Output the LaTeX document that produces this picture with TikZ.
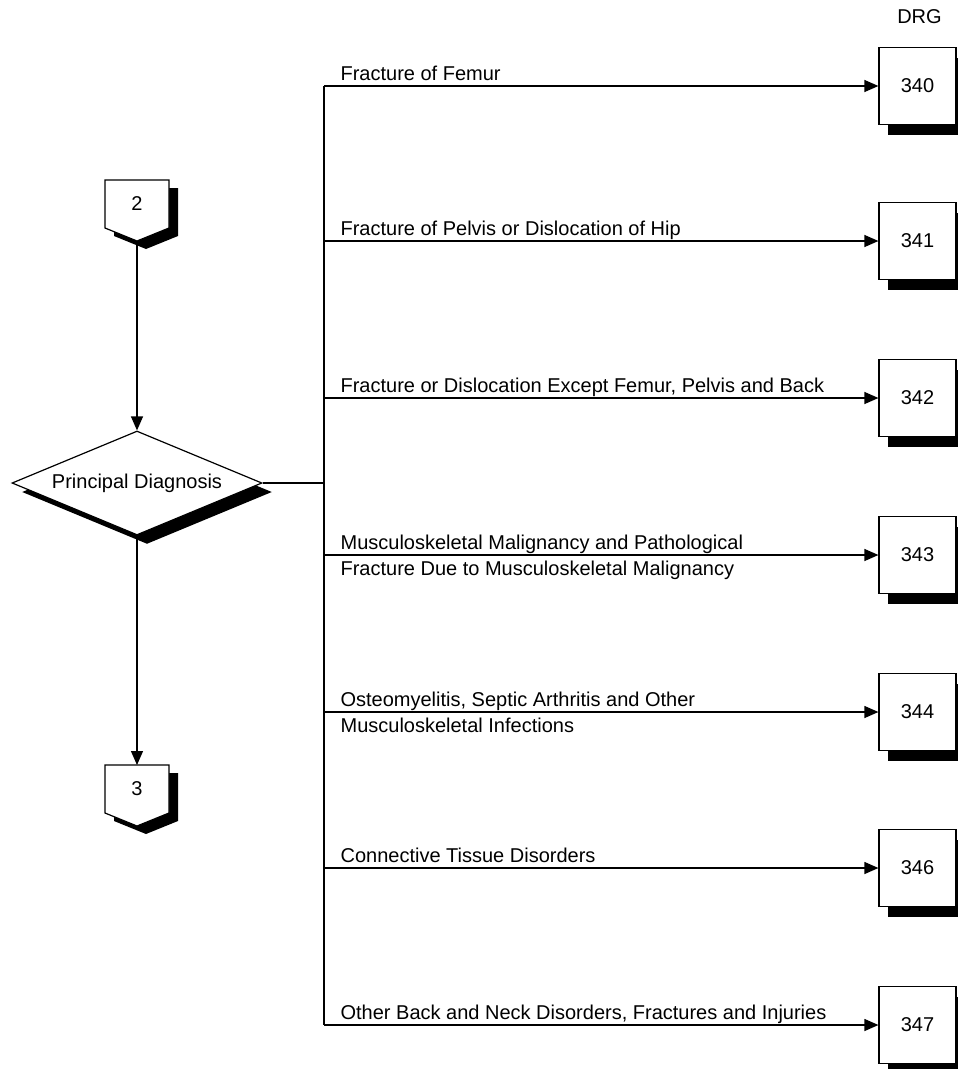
\documentclass[tikz,border=0pt]{standalone}
\usepackage{fontspec}
\setmainfont{Liberation Sans}
\usetikzlibrary{shapes.geometric,shadows,arrows.meta}
\begin{document}
\begin{tikzpicture}[x=1pt,y=-1pt,
  line width=1.2pt,
  every node/.style={font=\fontsize{20}{24}\selectfont, inner sep=0pt},
  arr/.style={-{Triangle[length=14pt,width=12pt]}},
  solid shadow/.style={drop shadow={shadow xshift=#1, shadow yshift=-9pt, fill=black, opacity=1}},
  drgbox/.style={draw, fill=white, minimum width=77pt, minimum height=77pt,
    drop shadow={shadow xshift=9pt, shadow yshift=-10pt, fill=black, opacity=1}},
  lbl/.style={anchor=base west},
  % off-page connector: pentagon pointing down, with solid shadow
  pics/tagbox/.style={code={
    \fill[black] (-23,8) -- (41,8) -- (41,56) -- (9,69) -- (-23,56) -- cycle;
    \draw[fill=white] (-32,0) -- (32,0) -- (32,48) -- (0,61) -- (-32,48) -- cycle;
    \coordinate (-top) at (0,0);
    \coordinate (-tip) at (0,61);
    \node (-num) at (0,24) {#1};
  }}]
\useasboundingbox (0,0) rectangle (958,1069);

% off-page connectors
\pic (b2) at (137,180) {tagbox=2};
\pic (b3) at (137,765) {tagbox=3};

% decision
\node[diamond, aspect=2.4, draw, fill=white, minimum width=250pt, minimum height=104pt,
      solid shadow=10pt] (pd) at (137,483) {Principal Diagnosis};

\draw[arr] (b2-tip) -- (pd.north);
\draw[arr] (pd.south) -- (b3-top);

% DRG header and boxes
\node (drg) at (919.5,17) {DRG};
\foreach \n/\y in {340/86,341/241,342/398,343/555,344/712,346/868,347/1025}
  \node[drgbox] (d\n) at (917.5,\y) {\n};

% trunk
\coordinate (junction) at (324,483);
\draw (pd.east) -- (junction);
\draw (junction |- d340.west) -- (junction |- d347.west);
\foreach \n in {340,341,342,343,344,346,347}
  \draw[arr] (junction |- d\n.west) -- (d\n.west);

% branch labels
\node[lbl] (l340) at (340,80) {Fracture of Femur};
\node[lbl] (l341) at (340,235) {Fracture of Pelvis or Dislocation of Hip};
\node[lbl] (l342) at (340,392) {Fracture or Dislocation Except Femur, Pelvis and Back};
\node[lbl] (l343a) at (340,549) {Musculoskeletal Malignancy and Pathological};
\node[lbl] (l343b) at (340,575) {Fracture Due to Musculoskeletal Malignancy};
\node[lbl] (l344a) at (340,706) {Osteomyelitis, Septic Arthritis and Other};
\node[lbl] (l344b) at (340,732) {Musculoskeletal Infections};
\node[lbl] (l346) at (340,862) {Connective Tissue Disorders};
\node[lbl] (l347) at (340,1019) {Other Back and Neck Disorders, Fractures and Injuries};
\end{tikzpicture}
\end{document}
